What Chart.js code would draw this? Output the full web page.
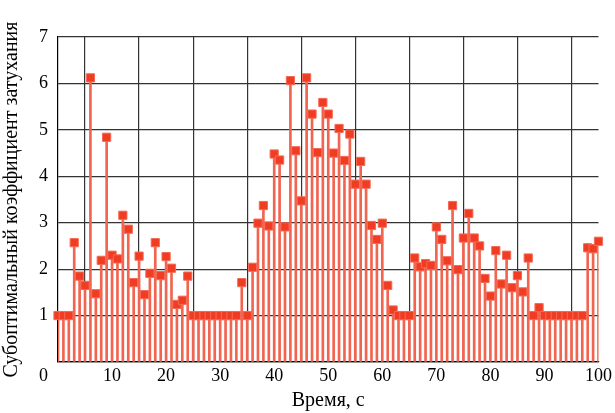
<!DOCTYPE html>
<html>
<head>
<meta charset="utf-8">
<script src="https://cdn.jsdelivr.net/npm/chart.js@4.4.0/dist/chart.umd.min.js"></script>
<style>
  html, body { margin: 0; padding: 0; background: #fff; }
  #wrap { width: 615px; height: 413px; }
</style>
</head>
<body>
<div id="wrap"><canvas id="chart"></canvas></div>
<script>
// time, s (0..100)
const times = [];
for (let t = 0; t <= 100; t++) times.push(t);

// suboptimal damping coefficient
const damping = [
  1.00, 1.00, 1.00, 2.57, 1.85, 1.65, 6.12, 1.47, 2.19, 4.84,
  2.30, 2.22, 3.16, 2.86, 1.71, 2.28, 1.45, 1.91, 2.57, 1.86,
  2.27, 2.02, 1.24, 1.33, 1.85, 1.00, 1.00, 1.00, 1.00, 1.00,
  1.00, 1.00, 1.00, 1.00, 1.71, 1.00, 2.04, 2.99, 3.37, 2.93,
  4.48, 4.35, 2.91, 6.06, 4.55, 3.47, 6.12, 5.34, 4.51, 5.59,
  5.34, 4.50, 5.03, 4.34, 4.91, 3.83, 4.32, 3.83, 2.94, 2.64,
  2.99, 1.65, 1.12, 1.00, 1.00, 1.00, 2.24, 2.05, 2.12, 2.08,
  2.91, 2.64, 2.18, 3.37, 1.99, 2.67, 3.20, 2.67, 2.50, 1.80,
  1.42, 2.40, 1.68, 2.30, 1.60, 1.86, 1.51, 2.24, 1.00, 1.17,
  1.00, 1.00, 1.00, 1.00, 1.00, 1.00, 1.00, 1.00, 2.46, 2.44,
  2.60
];

const xTicks = [10, 20, 30, 40, 50, 60, 70, 80, 90, 100];
const yTicks = [1, 2, 3, 4, 5, 6, 7];

const points = times.map((t, i) => ({ x: t, y: damping[i] }));

const FONT = "'Liberation Serif', 'Times New Roman', serif";

// "0" label in the lower-left corner, below the y axis labels
const cornerZero = {
  id: "cornerZero",
  afterDraw(chart) {
    const ctx = chart.ctx;
    const y = chart.scales.y;
    ctx.save();
    ctx.font = "18px " + FONT;
    ctx.fillStyle = "#000";
    ctx.textAlign = "right";
    ctx.textBaseline = "middle";
    ctx.fillText("0", y.right - 10, y.getPixelForValue(0) + 14);
    ctx.restore();
  },
};

new Chart(document.getElementById("chart"), {
  data: {
    datasets: [
      {
        type: "scatter",
        data: points,
        pointStyle: "rect",
        pointRadius: 5.8,
        pointHoverRadius: 5.8,
        backgroundColor: "#f03c22",
        borderColor: "#f46a55",
        borderWidth: 1,
        clip: false,
        order: 0,
      },
      {
        type: "bar",
        data: points,
        barThickness: 2,
        backgroundColor: "#f26450",
        borderWidth: 0,
        order: 1,
      },
    ],
  },
  options: {
    responsive: true,
    maintainAspectRatio: false,
    animation: false,
    layout: { padding: { top: 37, right: 15, left: 0, bottom: 0 } },
    plugins: {
      legend: { display: false },
      tooltip: { enabled: false },
    },
    scales: {
      x: {
        type: "linear",
        min: 0,
        max: 100,
        offset: false,
        afterBuildTicks: (s) => { s.ticks = [0].concat(xTicks).map((v) => ({ value: v })); },
        ticks: {
          color: "#000",
          font: { family: FONT, size: 18 },
          padding: 3,
          maxRotation: 0,
          callback: (v) => (v === 0 ? "" : v),
        },
        grid: { color: "#333", lineWidth: 1.2, drawTicks: false },
        border: { color: "#000", width: 1.2 },
        title: {
          display: true,
          text: "Время, с",
          color: "#000",
          font: { family: FONT, size: 20 },
          padding: { top: 0, bottom: 0 },
        },
        afterFit: (s) => { s.height = 51; },
      },
      y: {
        min: 0,
        max: 7,
        afterBuildTicks: (s) => { s.ticks = [0].concat(yTicks).map((v) => ({ value: v })); },
        ticks: {
          color: "#000",
          font: { family: FONT, size: 18 },
          padding: 10,
          callback: (v) => (v === 0 ? "" : v),
        },
        grid: { color: "#333", lineWidth: 1.2, drawTicks: false },
        border: { color: "#000", width: 1.2 },
        title: {
          display: true,
          text: "Субоптимальный коэффициент затухания",
          color: "#000",
          font: { family: FONT, size: 20 },
          padding: { top: 0, bottom: 6 },
        },
        afterFit: (s) => { s.width = 58; },
      },
    },
  },
  plugins: [cornerZero],
});
</script>
</body>
</html>
